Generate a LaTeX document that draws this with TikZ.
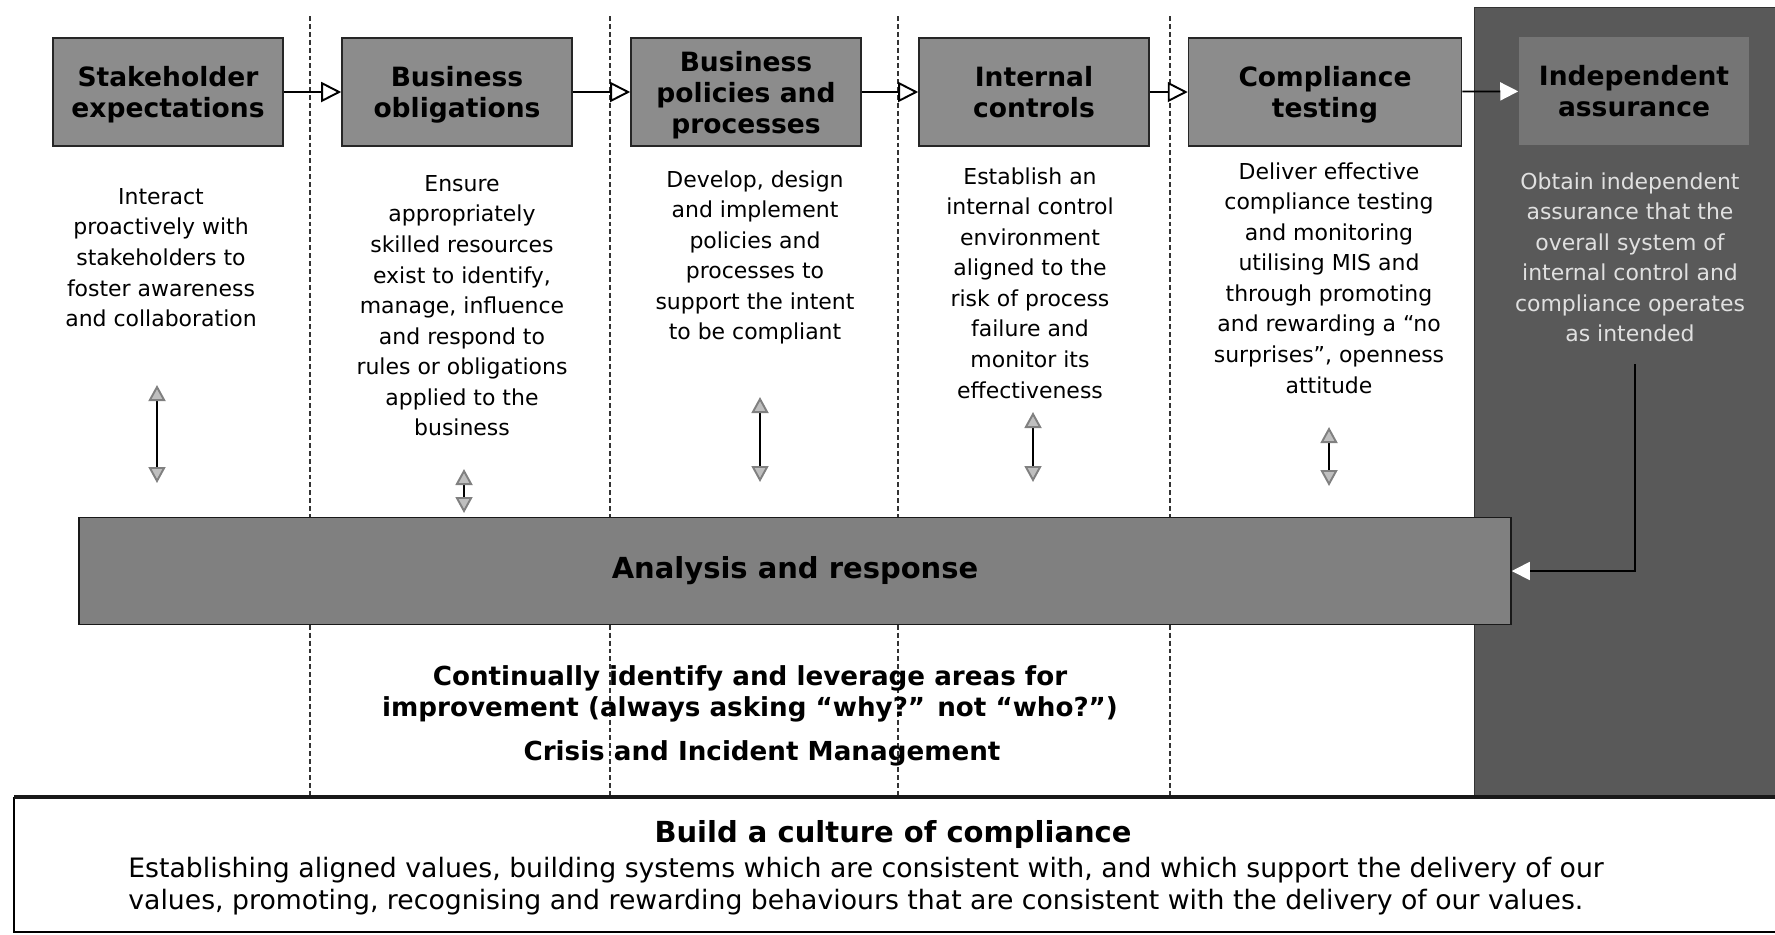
\documentclass[tikz,border=0pt]{standalone}
\usepackage{fontspec}
\setmainfont{DejaVu Sans}
\usetikzlibrary{arrows.meta,positioning}

\newcommand{\boxfont}{\fontsize{15.1}{17.6}\selectfont\bfseries}
\newcommand{\bodyfont}{\fontsize{12.5}{17.4}\selectfont}
\newcommand{\notefont}{\fontsize{14.9}{17.6}\selectfont\bfseries}

\tikzset{
	stage/.style={draw=black!85, line width=0.9pt, fill=black!45, minimum width=4.6cm, minimum height=2.16cm, align=center, font=\boxfont, inner sep=2pt, text depth=-1.5pt},
	desc/.style={anchor=north, align=center, font=\bodyfont, inner sep=0pt},
	flow/.style={line width=1.1pt, -{Triangle[fill=white, length=0.4cm, width=0.4cm]}},
	flowin/.style={line width=1pt, -{Triangle[fill=white, color=white, length=0.36cm, width=0.36cm]}},
	link/.style={line width=1.1pt, {Triangle[fill=black!25, color=black!50, length=0.32cm, width=0.34cm]}-{Triangle[fill=black!25, color=black!50, length=0.32cm, width=0.34cm]}},
	divider/.style={line width=0.6pt, dash pattern=on 2.8pt off 1.7pt, black!80},
}

\begin{document}
\begin{tikzpicture}[x=0.02cm, y=-0.02cm]
			%%%%% START %%%%%
			\useasboundingbox (0, 0) rectangle (1775, 934);
			
			% column dividers
			\draw[divider] (310, 16) -- (310, 797);
			\draw[divider] (610, 16) -- (610, 797);
			\draw[divider] (898, 16) -- (898, 797);
			\draw[divider] (1170, 16) -- (1170, 797);
			
			% assurance panel
			\draw[fill=black!65, draw=black!80] (1474, 7) rectangle (1776, 797);
			
			% stages
			\node[stage] (stake) at (168, 92) {Stakeholder\\expectations};
			\node[stage] (oblig) at (457, 92) {Business\\obligations};
			\node[stage] (policy) at (746, 92) {Business\\policies and\\processes};
			\node[stage] (ctrl) at (1034, 92) {Internal\\controls};
			\node[stage, minimum width=5.46cm] (test) at (1325, 92) {Compliance\\testing};
			\node[stage, draw=none, fill=black!54] (indep) at (1634, 91) {Independent\\assurance};
			
			\draw[flow] (stake) -- (oblig);
			\draw[flow] (oblig) -- (policy);
			\draw[flow] (policy) -- (ctrl);
			\draw[flow] (ctrl) -- (test);
			\draw[flowin] (test) -- (indep);
			
			% what each stage does
			\node[desc] (d1) at (161, 188) {Interact\\proactively with\\stakeholders to\\foster awareness\\and collaboration};
			\node[desc] (d2) at (462, 175) {Ensure\\appropriately\\skilled resources\\exist to identify,\\manage, influence\\and respond to\\rules or obligations\\applied to the\\business};
			\node[desc] (d3) at (755, 170) {Develop, design\\and implement\\policies and\\processes to\\support the intent\\to be compliant};
			\node[desc] (d4) at (1030, 167) {Establish an\\internal control\\environment\\aligned to the\\risk of process\\failure and\\monitor its\\effectiveness};
			\node[desc] (d5) at (1329, 162) {Deliver effective\\compliance testing\\and monitoring\\utilising MIS and\\through promoting\\and rewarding a “no\\surprises”, openness\\attitude};
			\node[desc, text=black!12] (d6) at (1630, 172) {Obtain independent\\assurance that the\\overall system of\\internal control and\\compliance operates\\as intended};
			
			% analysis bar
			\node[draw=black!90, line width=1pt, fill=black!50, minimum width=28.64cm, minimum height=2.14cm, font=\fontsize{16.5}{19}\selectfont\bfseries] (bar) at (795, 571) {Analysis and response};
			
			\coordinate (a1) at (157, 385);
			\coordinate (b1) at (157, 483);
			\coordinate (a2) at (464, 469);
			\coordinate (b2) at (464, 513);
			\coordinate (a3) at (760, 397);
			\coordinate (b3) at (760, 482);
			\coordinate (a4) at (1033, 412);
			\coordinate (b4) at (1033, 482);
			\coordinate (a5) at (1329, 427);
			\coordinate (b5) at (1329, 486);
			\draw[link] (a1) -- (b1);
			\draw[link] (a2) -- (b2);
			\draw[link] (a3) -- (b3);
			\draw[link] (a4) -- (b4);
			\draw[link] (a5) -- (b5);
			
			\coordinate (iadrop) at (1635, 364);
			\draw[flowin] (iadrop) |- (bar.east);
			
			% improvement notes
			\node[desc, font=\notefont] (improve) at (750, 665) {Continually identify and leverage areas for\\improvement (always asking “why?” not “who?”)};
			\node[font=\notefont] (crisis) at (762, 753) {Crisis and Incident Management};
			
			% culture box
			\draw[line width=0.8pt] (1776, 932) -- (14, 932) -- (14, 797);
			\draw[line width=2pt, black!90] (14, 797) -- (1776, 797);
			\node[font=\fontsize{16.5}{19}\selectfont\bfseries] (culture) at (893, 834) {Build a culture of compliance};
			\node[anchor=north west, align=left, inner sep=0pt, font=\fontsize{15.2}{18.2}\selectfont] (values) at (128, 857) {Establishing aligned values, building systems which are consistent with, and which support the delivery of our\\values, promoting, recognising and rewarding behaviours that are consistent with the delivery of our values.};
			
			%%%%% END %%%%%
\end{tikzpicture}
\end{document}
